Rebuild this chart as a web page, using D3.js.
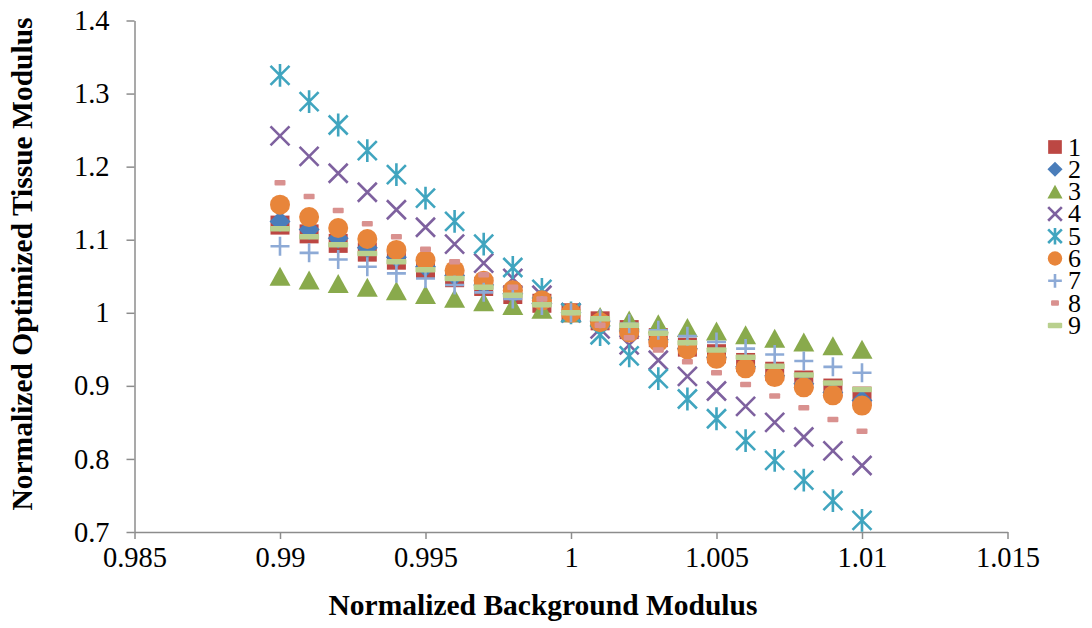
<!DOCTYPE html>
<html>
<head>
<meta charset="utf-8">
<script src="https://cdn.jsdelivr.net/npm/d3@7"></script>
<style>
  html, body { margin: 0; padding: 0; background: #ffffff; }
  svg { display: block; }
  text { font-family: "Liberation Serif", "Times New Roman", serif; fill: #000; }
</style>
</head>
<body>
<svg id="chart" width="1092" height="628"></svg>
<script>
// Normalized background modulus (x) shared by every series
const xValues = [0.990, 0.991, 0.992, 0.993, 0.994, 0.995, 0.996, 0.997, 0.998, 0.999, 1.000,
                 1.001, 1.002, 1.003, 1.004, 1.005, 1.006, 1.007, 1.008, 1.009, 1.010];

// Normalized optimized tissue modulus for each case
const series1 = [1.120, 1.108, 1.095, 1.083, 1.072, 1.060, 1.048, 1.036, 1.025, 1.013, 1.000,
                 0.989, 0.977, 0.966, 0.953, 0.944, 0.932, 0.920, 0.908, 0.897, 0.886];
const series2 = [1.125, 1.114, 1.102, 1.089, 1.076, 1.063, 1.051, 1.038, 1.026, 1.013, 1.000,
                 0.988, 0.975, 0.963, 0.951, 0.939, 0.926, 0.914, 0.903, 0.891, 0.880];
const series3 = [1.050, 1.045, 1.040, 1.035, 1.030, 1.025, 1.020, 1.015, 1.010, 1.005, 1.000,
                 0.995, 0.990, 0.985, 0.980, 0.975, 0.970, 0.965, 0.960, 0.955, 0.950];
const series4 = [1.242, 1.214, 1.191, 1.165, 1.141, 1.117, 1.094, 1.068, 1.047, 1.024, 1.000,
                 0.978, 0.956, 0.935, 0.913, 0.893, 0.872, 0.850, 0.830, 0.811, 0.791];
const series5 = [1.325, 1.289, 1.257, 1.222, 1.189, 1.157, 1.125, 1.094, 1.062, 1.032, 1.000,
                 0.970, 0.941, 0.910, 0.882, 0.855, 0.825, 0.798, 0.771, 0.743, 0.716];
const series6 = [1.148, 1.131, 1.116, 1.101, 1.086, 1.072, 1.058, 1.044, 1.031, 1.017, 1.000,
                 0.987, 0.973, 0.960, 0.950, 0.937, 0.924, 0.912, 0.898, 0.887, 0.873];
const series7 = [1.091, 1.082, 1.073, 1.063, 1.054, 1.047, 1.038, 1.028, 1.019, 1.010, 1.000,
                 0.992, 0.985, 0.976, 0.968, 0.960, 0.951, 0.943, 0.934, 0.926, 0.918];
const series8 = [1.178, 1.159, 1.140, 1.122, 1.104, 1.087, 1.070, 1.052, 1.035, 1.019, 1.000,
                 0.983, 0.966, 0.949, 0.933, 0.918, 0.902, 0.886, 0.870, 0.854, 0.838];
const series9 = [1.115, 1.104, 1.093, 1.081, 1.070, 1.059, 1.047, 1.035, 1.024, 1.011, 1.000,
                 0.992, 0.983, 0.972, 0.959, 0.949, 0.939, 0.927, 0.915, 0.904, 0.895];

const seriesNames = ["1", "2", "3", "4", "5", "6", "7", "8", "9"];

// Axis ticks
const xTicks = [0.985, 0.990, 0.995, 1.000, 1.005, 1.010, 1.015];
const xTickLabels = ["0.985", "0.99", "0.995", "1", "1.005", "1.01", "1.015"];
const yTicks = [0.7, 0.8, 0.9, 1.0, 1.1, 1.2, 1.3, 1.4];
const yTickLabels = ["0.7", "0.8", "0.9", "1", "1.1", "1.2", "1.3", "1.4"];

const allSeries = [series1, series2, series3, series4, series5, series6, series7, series8, series9];

// Marker styling per series
const markerStyles = [
  { shape: "square",   color: "#BC4743" },
  { shape: "diamond",  color: "#4A7DBA" },
  { shape: "triangle", color: "#89AA4C" },
  { shape: "times",    color: "#7E619F" },
  { shape: "asterisk", color: "#40A5BF" },
  { shape: "circle",   color: "#E8853A" },
  { shape: "plus",     color: "#8DAAD6" },
  { shape: "shortdash",color: "#D9918F" },
  { shape: "longdash", color: "#B9D08E" }
];

const svg = d3.select("#chart");
const plot = { left: 134.5, right: 1007.5, top: 20.5, bottom: 532 };

const x = d3.scaleLinear().domain([0.985, 1.015]).range([plot.left, plot.right]);
const y = d3.scaleLinear().domain([0.7, 1.4]).range([plot.bottom, plot.top]);

const axisColor = "#8c8c8c";
const tickFont = "28.5px";

// X axis
const xAxis = d3.axisBottom(x)
  .tickValues(xTicks)
  .tickFormat((d, i) => xTickLabels[i])
  .tickSizeInner(7).tickSizeOuter(0).tickPadding(8);
const gx = svg.append("g").attr("transform", `translate(0,${plot.bottom})`).call(xAxis);
gx.select(".domain").attr("stroke", axisColor).attr("stroke-width", 1.5);
gx.selectAll(".tick line").attr("stroke", axisColor).attr("stroke-width", 1.5);
gx.selectAll(".tick text").style("font-size", tickFont).attr("fill", "#000")
  .style("font-family", "'Liberation Serif', 'Times New Roman', serif");

// Y axis
const yAxis = d3.axisLeft(y)
  .tickValues(yTicks)
  .tickFormat((d, i) => yTickLabels[i])
  .tickSizeInner(8).tickSizeOuter(0).tickPadding(17);
const gy = svg.append("g").attr("transform", `translate(${plot.left},0)`).call(yAxis);
gy.select(".domain").attr("stroke", axisColor).attr("stroke-width", 1.5);
gy.selectAll(".tick line").attr("stroke", axisColor).attr("stroke-width", 1.5);
gy.selectAll(".tick text").style("font-size", tickFont).attr("fill", "#000")
  .style("font-family", "'Liberation Serif', 'Times New Roman', serif");

// Axis titles
svg.append("text")
  .attr("x", 543).attr("y", 615)
  .attr("text-anchor", "middle")
  .style("font-size", "29.5px").style("font-weight", "bold")
  .text("Normalized Background Modulus");

svg.append("text")
  .attr("transform", "translate(32,264) rotate(-90)")
  .attr("text-anchor", "middle")
  .style("font-size", "29.5px").style("font-weight", "bold")
  .text("Normalized Optimized Tissue Modulus");

// Draws one marker into a group, centred on (0,0); k scales the size
function drawMarker(g, style, k) {
  const c = style.color;
  switch (style.shape) {
    case "square": {
      const s = 19 * k;
      g.append("rect").attr("x", -s / 2).attr("y", -s / 2).attr("width", s).attr("height", s)
        .attr("fill", c);
      break;
    }
    case "diamond": {
      const r = 10.5 * k;
      g.append("path").attr("d", `M0,${-r}L${r},0L0,${r}L${-r},0Z`).attr("fill", c);
      break;
    }
    case "triangle": {
      const w = 21 * k, h = 19 * k;
      g.append("path").attr("d", `M0,${-h / 2}L${w / 2},${h / 2}L${-w / 2},${h / 2}Z`).attr("fill", c);
      break;
    }
    case "times": {
      const a = 9.5 * k;
      g.append("path").attr("d", `M${-a},${-a}L${a},${a}M${a},${-a}L${-a},${a}`)
        .attr("stroke", c).attr("stroke-width", 2.6).attr("fill", "none");
      break;
    }
    case "asterisk": {
      const a = 9.5 * k;
      g.append("path").attr("d", `M${-a},${-a}L${a},${a}M${a},${-a}L${-a},${a}M0,${-a * 1.2}L0,${a * 1.2}`)
        .attr("stroke", c).attr("stroke-width", 2.6).attr("fill", "none");
      break;
    }
    case "circle": {
      g.append("circle").attr("r", 10 * k).attr("fill", c);
      break;
    }
    case "plus": {
      const a = 9.5 * k;
      g.append("path").attr("d", `M${-a},0L${a},0M0,${-a}L0,${a}`)
        .attr("stroke", c).attr("stroke-width", 2.6).attr("fill", "none");
      break;
    }
    case "shortdash": {
      const w = 11 * k, h = 5.5;
      g.append("rect").attr("x", -w / 2).attr("y", -h / 2).attr("width", w).attr("height", h)
        .attr("rx", 1).attr("fill", c);
      break;
    }
    case "longdash": {
      const w = 20 * k, h = 5.5;
      g.append("rect").attr("x", -w / 2).attr("y", -h / 2).attr("width", w).attr("height", h)
        .attr("rx", 1).attr("fill", c);
      break;
    }
  }
}

// Scatter markers, series 1 underneath through series 9 on top
allSeries.forEach((vals, si) => {
  const layer = svg.append("g").attr("class", "series-" + seriesNames[si]);
  vals.forEach((v, i) => {
    const g = layer.append("g").attr("transform", `translate(${x(xValues[i])},${y(v)})`);
    drawMarker(g, markerStyles[si], 1);
  });
});

// Legend
const legend = svg.append("g").attr("transform", "translate(1055,147)");
seriesNames.forEach((name, i) => {
  const row = legend.append("g").attr("transform", `translate(0,${i * 22.3})`);
  drawMarker(row, markerStyles[i], 0.72);
  row.append("text").attr("x", 13).attr("y", 8.5)
    .style("font-size", "26px").text(name);
});
</script>
</body>
</html>
